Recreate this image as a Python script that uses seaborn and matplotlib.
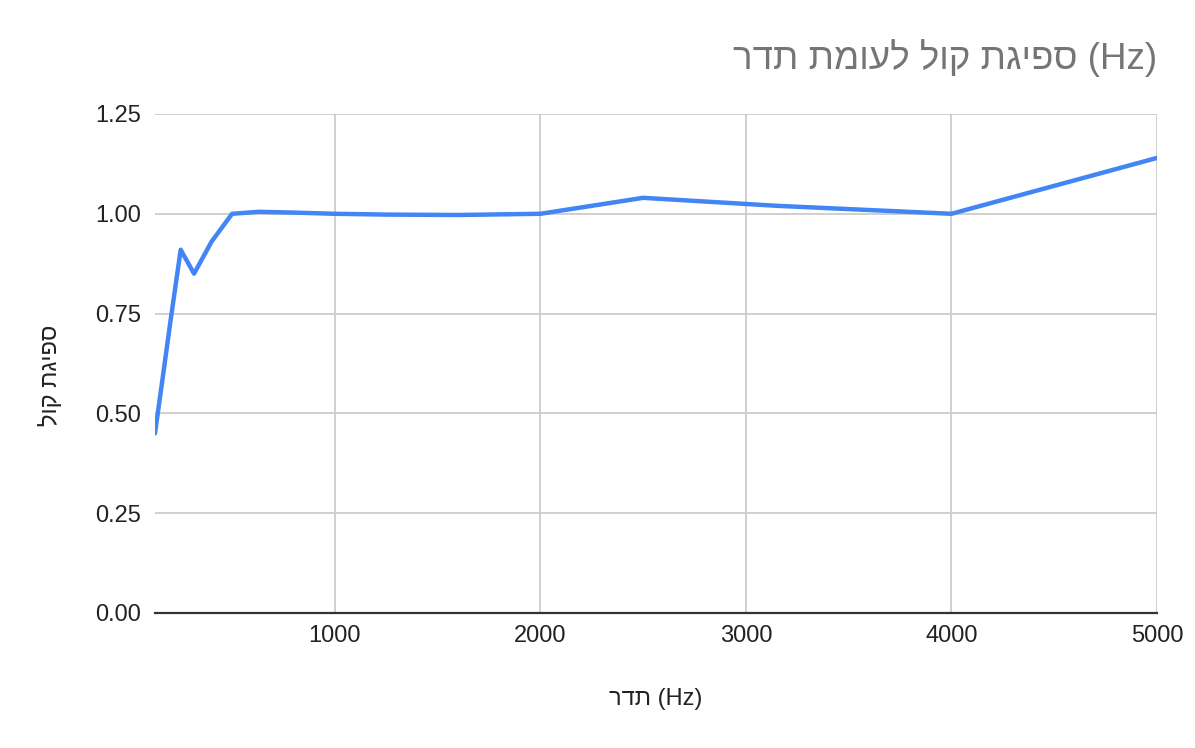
import matplotlib
matplotlib.use("Agg")
import matplotlib.pyplot as plt
import seaborn as sns
import pandas as pd

# --- data ---
freq_hz = [125, 160, 200, 250, 315, 400, 500, 630, 800, 1000, 1250, 1600, 2000, 2500, 3150, 4000, 5000]
absorption = [0.45, 0.58, 0.73, 0.91, 0.85, 0.93, 1.00, 1.005, 1.003, 1.00, 0.998, 0.997, 1.00, 1.04, 1.02, 1.00, 1.14]
x_ticks = [1000, 2000, 3000, 4000, 5000]
y_ticks = [0.00, 0.25, 0.50, 0.75, 1.00, 1.25]

# Hebrew strings in visual (left-to-right) order for rendering
title_text = "רדת תמועל לוק תגיפס (Hz)"
x_label = "רדת (Hz)"
y_label = "לוק תגיפס"

df = pd.DataFrame({"freq": freq_hz, "abs": absorption})

sns.set_theme(style="white")
plt.rcParams["font.family"] = ["Liberation Sans", "Open Sans", "DejaVu Sans"]

fig = plt.figure(figsize=(11.95, 7.48), dpi=100)
ax = fig.add_axes([0.1297, 0.1805, 0.9682 - 0.1297, 0.8476 - 0.1805])

sns.lineplot(data=df, x="freq", y="abs", ax=ax, color="#4285F4", linewidth=3.2)

ax.set_xlim(125, 5000)
ax.set_ylim(0, 1.25)
ax.set_xticks(x_ticks)
ax.set_yticks(y_ticks)
ax.set_yticklabels([f"{v:.2f}" for v in y_ticks])
ax.grid(True, color="#cccccc", linewidth=1.3)
ax.set_axisbelow(True)
for s in ["left", "right", "top"]:
    ax.spines[s].set_visible(False)
ax.spines["bottom"].set_color("#333333")
ax.spines["bottom"].set_linewidth(1.6)
ax.tick_params(axis="both", length=0, labelsize=17, colors="#222222")
ax.tick_params(axis="x", pad=9)
ax.tick_params(axis="y", pad=10)

ax.set_xlabel(x_label, fontsize=17, color="#222222")
ax.set_ylabel(y_label, fontsize=17, color="#222222")
ax.xaxis.set_label_coords(0.5, -0.15)
ax.yaxis.set_label_coords(-0.093, 0.477)

fig.text(0.9682, 0.923, title_text, ha="right", va="center", fontsize=26.5, color="#757575")

fig.savefig("out.png", dpi=100, facecolor="white")
